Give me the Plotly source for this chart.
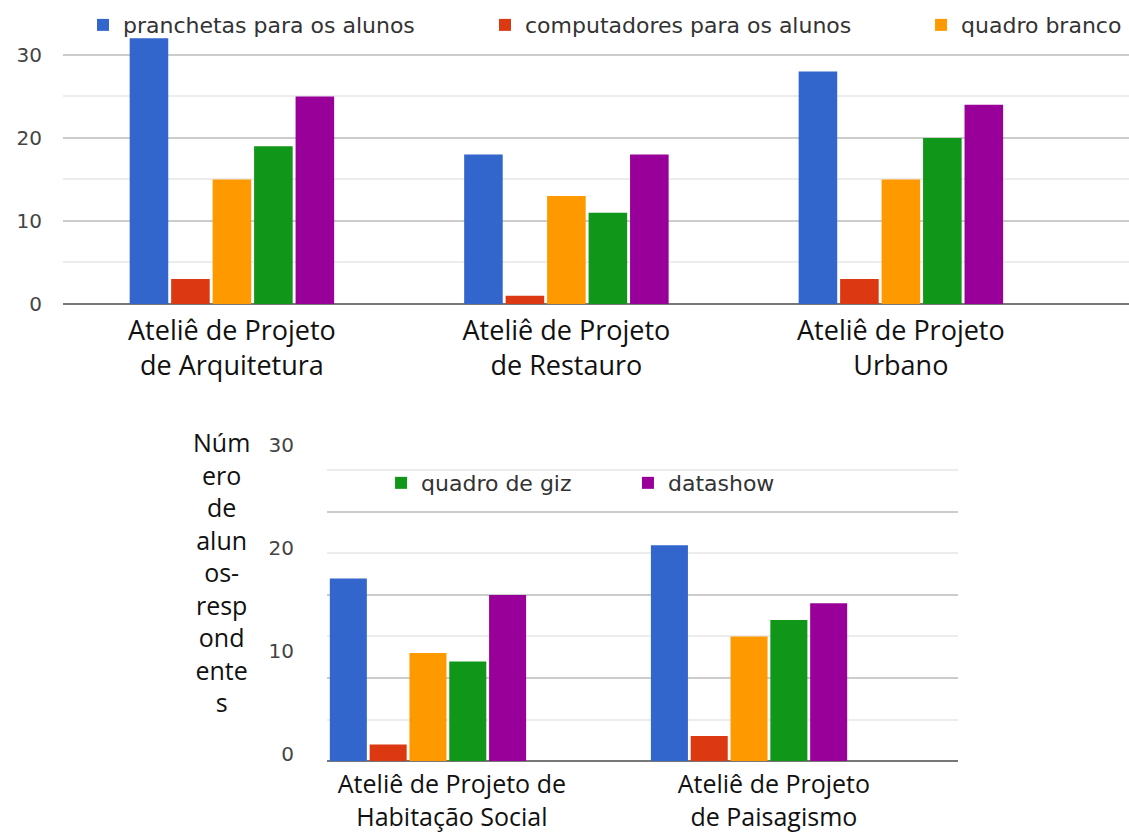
import plotly.graph_objects as go

# ---------------- data ----------------
series_names = ["pranchetas para os alunos", "computadores para os alunos",
                "quadro branco", "quadro de giz", "datashow"]
series_colors = ["#3366cc", "#dc3912", "#ff9900", "#109618", "#990099"]

top_categories = ["Ateliê de Projeto<br>de Arquitetura",
                  "Ateliê de Projeto<br>de Restauro",
                  "Ateliê de Projeto<br>Urbano"]
bottom_categories = ["Ateliê de Projeto de<br>Habitação Social",
                     "Ateliê de Projeto<br>de Paisagismo"]

pranchetas = [32, 18, 28, 22, 26]
computadores = [3, 1, 3, 2, 3]
quadro_branco = [15, 13, 15, 13, 15]
quadro_giz = [19, 11, 20, 12, 17]
datashow = [25, 18, 24, 20, 19]
all_values = [pranchetas, computadores, quadro_branco, quadro_giz, datashow]

y_tick_vals = [0, 10, 20, 30]
y_title = "Núm<br>ero<br>de<br>alun<br>os-<br>resp<br>ond<br>ente<br>s"

# ---------------- figure ----------------
legend_ids = ["legend", "legend2", "legend3", "legend4", "legend5"]
fig = go.Figure()
n_top = len(top_categories)
for i, (name, color, vals) in enumerate(zip(series_names, series_colors, all_values)):
    fig.add_trace(go.Bar(
        x=top_categories, y=vals[:n_top], name=name, marker_color=color,
        marker_line_width=0, xaxis="x", yaxis="y",
        legend=legend_ids[i], legendgroup=name, showlegend=i < 3))
    fig.add_trace(go.Bar(
        x=bottom_categories, y=vals[n_top:], name=name, marker_color=color,
        marker_line_width=0, xaxis="x2", yaxis="y2",
        legend=legend_ids[i], legendgroup=name, showlegend=i >= 3))

# invisible carrier so the overlaid label axes of the lower chart are drawn
fig.add_trace(go.Scatter(
    x=list(range(len(bottom_categories))),
    y=[y_tick_vals[0]] * len(bottom_categories),
    xaxis="x3", yaxis="y3", mode="markers", marker=dict(opacity=0),
    showlegend=False, hoverinfo="skip"))

tick_font = dict(family="DejaVu Sans", size=20, color="#444444")
label_font = dict(family="Open Sans", size=27, color="#111111")
label_font_bottom = dict(family="Open Sans", size=25, color="#111111")
legend_font = dict(family="DejaVu Sans", size=22, color="#333333")
grid_major = "#cccccc"
grid_minor = "#ececec"

legend_x = [0.0735, 0.4296, 0.8158, 0.3375, 0.5562]
legend_y = [0.970, 0.970, 0.970, 0.4222, 0.4222]
legends = {}
for lid, lx, ly in zip(legend_ids, legend_x, legend_y):
    legends[lid] = dict(orientation="h", x=lx, y=ly, xanchor="left",
                        yanchor="middle", bgcolor="rgba(0,0,0,0)",
                        font=legend_font)

fig.update_layout(
    width=1129, height=836,
    margin=dict(l=0, r=0, t=0, b=0, autoexpand=False),
    paper_bgcolor="white", plot_bgcolor="white",
    barmode="group", bargap=0.38, bargroupgap=0.07,
    # top chart
    xaxis=dict(domain=[0.0558, 1.0], anchor="y", type="category",
               range=[-0.505, 2.682], showgrid=False, zeroline=False,
               showline=False, ticks="", tickfont=label_font,
               ticklabelstandoff=8, automargin=False),
    yaxis=dict(domain=[0.6364, 0.9581], anchor="x", range=[0, 32.4],
               tickvals=y_tick_vals, showgrid=True, gridcolor=grid_major,
               gridwidth=1.5, zeroline=True, zerolinecolor="#777777",
               zerolinewidth=2, showline=False, tickfont=tick_font,
               ticklabelstandoff=20, automargin=False,
               minor=dict(dtick=5, showgrid=True, gridcolor=grid_minor,
                          gridwidth=1.5)),
    # bottom chart (bars + grid)
    xaxis2=dict(domain=[0.2896, 0.8486], anchor="y2", type="category",
                range=[-0.3146, 1.651], showgrid=False, zeroline=False,
                showline=False, ticks="", showticklabels=False,
                automargin=False),
    yaxis2=dict(domain=[0.0897, 0.4737], anchor="x2", range=[0, 38.67],
                dtick=10, showgrid=True, gridcolor=grid_major, gridwidth=1.5,
                zeroline=True, zerolinecolor="#777777", zerolinewidth=2,
                showline=False, showticklabels=False, automargin=False,
                minor=dict(dtick=5, showgrid=True, gridcolor=grid_minor,
                           gridwidth=1.5)),
    # bottom chart label axes (as placed in the source document)
    xaxis3=dict(overlaying="x2", anchor="y2", side="bottom",
                range=[-0.388, 1.572], tickmode="array",
                tickvals=list(range(len(bottom_categories))),
                ticktext=bottom_categories, showgrid=False, zeroline=False,
                showline=False, ticks="", tickfont=label_font_bottom,
                ticklabelstandoff=6, automargin=False),
    yaxis3=dict(overlaying="y2", anchor="x2", side="left",
                range=[-0.68, 30.49], tickmode="array", tickvals=y_tick_vals,
                showgrid=False, zeroline=False, showline=False, ticks="",
                tickfont=tick_font, ticklabelstandoff=32, automargin=False),
    annotations=[dict(text=y_title, xref="paper", yref="paper",
                      x=0.1966, y=0.3152, xanchor="center", yanchor="middle",
                      align="center", showarrow=False,
                      font=dict(family="Open Sans", size=25, color="#111111"))],
    **legends,
)

fig.write_html("out.html")
